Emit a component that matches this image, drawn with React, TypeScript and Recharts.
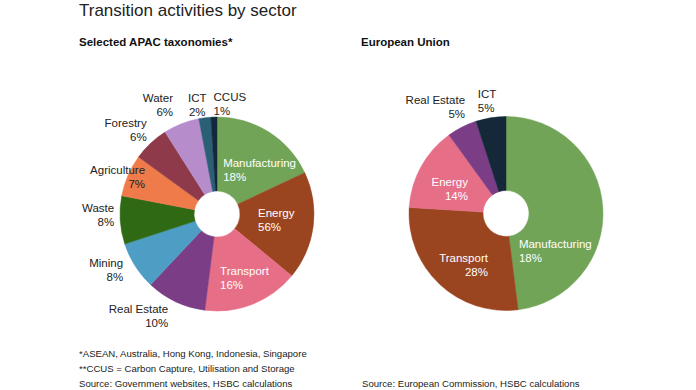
import React from 'react';
import { PieChart, Pie, Cell } from 'recharts';

// ---- Data ----
const apacSectors = ['Manufacturing', 'Energy', 'Transport', 'Real Estate', 'Mining', 'Waste', 'Agriculture', 'Forestry', 'Water', 'ICT', 'CCUS'];
const apacShares = [18, 18, 16, 10, 8, 8, 7, 6, 6, 2, 1];
const apacLabelTexts = ['18%', '56%', '16%', '10%', '8%', '8%', '7%', '6%', '6%', '2%', '1%'];

const euSectors = ['Manufacturing', 'Transport', 'Energy', 'Real Estate', 'ICT'];
const euShares = [48, 28, 14, 5, 5];
const euLabelTexts = ['18%', '28%', '14%', '5%', '5%'];

const titleText = 'Transition activities by sector';
const apacTitle = 'Selected APAC taxonomies*';
const euTitle = 'European Union';
const apacNotes = [
  '*ASEAN, Australia, Hong Kong, Indonesia, Singapore',
  '**CCUS = Carbon Capture, Utilisation and Storage',
  'Source: Government websites, HSBC calculations',
];
const euNotes = ['Source: European Commission, HSBC calculations'];

// ---- Styles / layout ----
const apacColors = ['#72A458', '#9B4520', '#E66E87', '#7B3E86', '#4D9DC5', '#2F6914', '#EF7A4A', '#8F3A4B', '#B68CCB', '#2B5F76', '#13283A'];
const euColors = ['#72A458', '#9B4520', '#E66E87', '#7B3E86', '#15283A'];

const apacLabelAnchor = ['start', 'start', 'start', 'end', 'end', 'end', 'end', 'end', 'end', 'middle', 'start'];
const apacLabelNudge: [number, number][] = [
  [-26, 7], [-18.5, -1.5], [-19, 8], [-2, 2.5], [-1, -3], [7, -5.5], [29, 7], [5, -4], [-3.5, -7], [-6, 0], [0, 0],
];
const euLabelAnchor = ['start', 'end', 'end', 'end', 'start'];
const euLabelNudge: [number, number][] = [
  [-47, 41], [23, 8], [14.5, 4.5], [9, -8], [-11, -4],
];

const FONT = '"Liberation Sans", Arial, Helvetica, sans-serif';
const RAD = Math.PI / 180;

function makeLabel(names: string[], texts: string[], anchors: string[], nudges: [number, number][]) {
  return (props: any) => {
    const { cx, cy, midAngle, index, percent } = props;
    const inside = percent >= 0.135;
    const r = inside ? 60 : 110;
    const x = cx + r * Math.cos(-midAngle * RAD) + nudges[index][0];
    const y = cy + r * Math.sin(-midAngle * RAD) + nudges[index][1];
    const fill = inside ? '#ffffff' : '#222222';
    const common = {
      x,
      textAnchor: anchors[index] as any,
      dominantBaseline: 'central' as any,
      fill,
      fontSize: 11.5,
      fontFamily: FONT,
    };
    return (
      <g key={`lbl-${index}`}>
        <text {...common} y={y - 7}>{names[index]}</text>
        <text {...common} y={y + 7}>{texts[index]}</text>
      </g>
    );
  };
}

const apacData = apacSectors.map((name, i) => ({ name, value: apacShares[i] }));
const euData = euSectors.map((name, i) => ({ name, value: euShares[i] }));

export default function App() {
  return (
    <div style={{ position: 'absolute', left: 0, top: 0, width: 696, height: 390, background: '#fff' }}>
      <div style={{ position: 'absolute', left: 0, top: 0 }}>
        <PieChart width={696} height={390} margin={{ top: 0, right: 0, bottom: 0, left: 0 }}>
          <Pie
            data={apacData}
            dataKey="value"
            nameKey="name"
            cx={217}
            cy={214}
            innerRadius={23}
            outerRadius={97}
            startAngle={90}
            endAngle={-270}
            isAnimationActive={false}
            labelLine={false}
            label={makeLabel(apacSectors, apacLabelTexts, apacLabelAnchor, apacLabelNudge)}
          >
            {apacData.map((d, i) => (
              <Cell key={d.name} fill={apacColors[i]} stroke={apacColors[i]} strokeWidth={0.5} />
            ))}
          </Pie>
          <Pie
            data={euData}
            dataKey="value"
            nameKey="name"
            cx={506}
            cy={213.5}
            innerRadius={23}
            outerRadius={97}
            startAngle={90}
            endAngle={-270}
            isAnimationActive={false}
            labelLine={false}
            label={makeLabel(euSectors, euLabelTexts, euLabelAnchor, euLabelNudge)}
          >
            {euData.map((d, i) => (
              <Cell key={d.name} fill={euColors[i]} stroke={euColors[i]} strokeWidth={0.5} />
            ))}
          </Pie>
        </PieChart>
      </div>
      <svg width={696} height={390} style={{ position: 'absolute', left: 0, top: 0, pointerEvents: 'none' }}>
        <text x={79} y={16} fontSize={17} fontFamily={FONT} fill="#222">{titleText}</text>
        <text x={79} y={46} fontSize={11.5} fontWeight={700} fontFamily={FONT} fill="#111">{apacTitle}</text>
        <text x={361} y={46} fontSize={11.5} fontWeight={700} fontFamily={FONT} fill="#111">{euTitle}</text>
        {apacNotes.map((t, i) => (
          <text key={t} x={79} y={357 + i * 15} fontSize={9.6} fontFamily={FONT} fill="#222">{t}</text>
        ))}
        {euNotes.map((t) => (
          <text key={t} x={362} y={387} fontSize={9.6} fontFamily={FONT} fill="#222">{t}</text>
        ))}
      </svg>
    </div>
  );
}
